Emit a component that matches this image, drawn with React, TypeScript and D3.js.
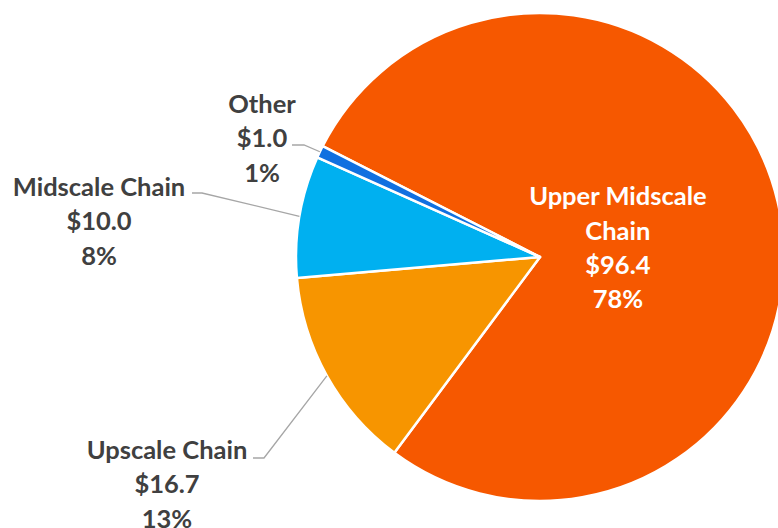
import * as d3 from 'd3';

// slices in clockwise order, starting from the big one
const categories = ['Upper Midscale Chain', 'Upscale Chain', 'Midscale Chain', 'Other'];
const values = [96.4, 16.7, 10.0, 1.0];
const colors = ['#F65800', '#F79500', '#00B0F0', '#1170E0'];

// label text split into lines
const nameLines = [['Upper Midscale', 'Chain'], ['Upscale Chain'], ['Midscale Chain'], ['Other']];

// where the outside labels sit (text center x, first line y, leader start x, elbow x, leader y)
const labelLayout = [
  null,
  { x: 167, y: 449, lx: 253, ex: 264, ly: 458 },
  { x: 99, y: 186, lx: 192, ex: 202, ly: 193 },
  { x: 262, y: 103, lx: 292, ex: 304, ly: 145 },
];

export default function App() {
  const width = 778;
  const height = 528;
  const cx = 540;
  const cy = 257;
  const radius = 244;
  const lineH = 34.3;
  const font = 'Lato, Carlito, Calibri, sans-serif';

  const total = d3.sum(values);
  const start = (-63 * Math.PI) / 180;
  const pie = d3
    .pie<number>()
    .sort(null)
    .startAngle(start)
    .endAngle(start + 2 * Math.PI)
    .value((d) => d);
  const arcs = pie(values);
  const arc = d3.arc<d3.PieArcDatum<number>>().innerRadius(0).outerRadius(radius);
  const labelArc = d3.arc<d3.PieArcDatum<number>>().innerRadius(80).outerRadius(80);

  const pct = (v: number) => `${Math.round((v / total) * 100)}%`;
  const money = d3.format('$.1f');

  return (
    <svg
      width={width}
      height={height}
      style={{ position: 'absolute', left: 0, top: 0 }}
      fontFamily={font}
      fontWeight="bold"
    >
      <rect width={width} height={height} fill="white" />
      <g transform={`translate(${cx},${cy})`}>
        {arcs.map((a, i) => (
          <path key={i} d={arc(a) || ''} fill={colors[i]} stroke="white" strokeWidth={2.5} strokeLinejoin="round" />
        ))}
      </g>

      {/* leader lines */}
      {arcs.map((a, i) => {
        const l = labelLayout[i];
        if (!l) return null;
        const mid = (a.startAngle + a.endAngle) / 2;
        const px = cx + radius * Math.sin(mid);
        const py = cy - radius * Math.cos(mid);
        return (
          <polyline
            key={i}
            points={`${l.lx},${l.ly} ${l.ex},${l.ly} ${px},${py}`}
            fill="none"
            stroke="#A6A6A6"
            strokeWidth={1.3}
          />
        );
      })}

      {/* labels */}
      {arcs.map((a, i) => {
        const l = labelLayout[i];
        const lines = [...nameLines[i], money(values[i]), pct(values[i])];
        let x: number;
        let y0: number;
        let fill: string;
        if (l) {
          x = l.x;
          y0 = l.y;
          fill = '#404040';
        } else {
          const [ox, oy] = labelArc.centroid(a);
          x = cx + ox;
          y0 = cy + oy + 8 - ((lines.length - 1) * lineH) / 2;
          fill = 'white';
        }
        return (
          <text key={i} fill={fill} fontSize={25.5} textAnchor="middle">
            {lines.map((t, j) => (
              <tspan key={j} x={x} y={y0 + j * lineH} dominantBaseline="central">
                {t}
              </tspan>
            ))}
          </text>
        );
      })}
    </svg>
  );
}
